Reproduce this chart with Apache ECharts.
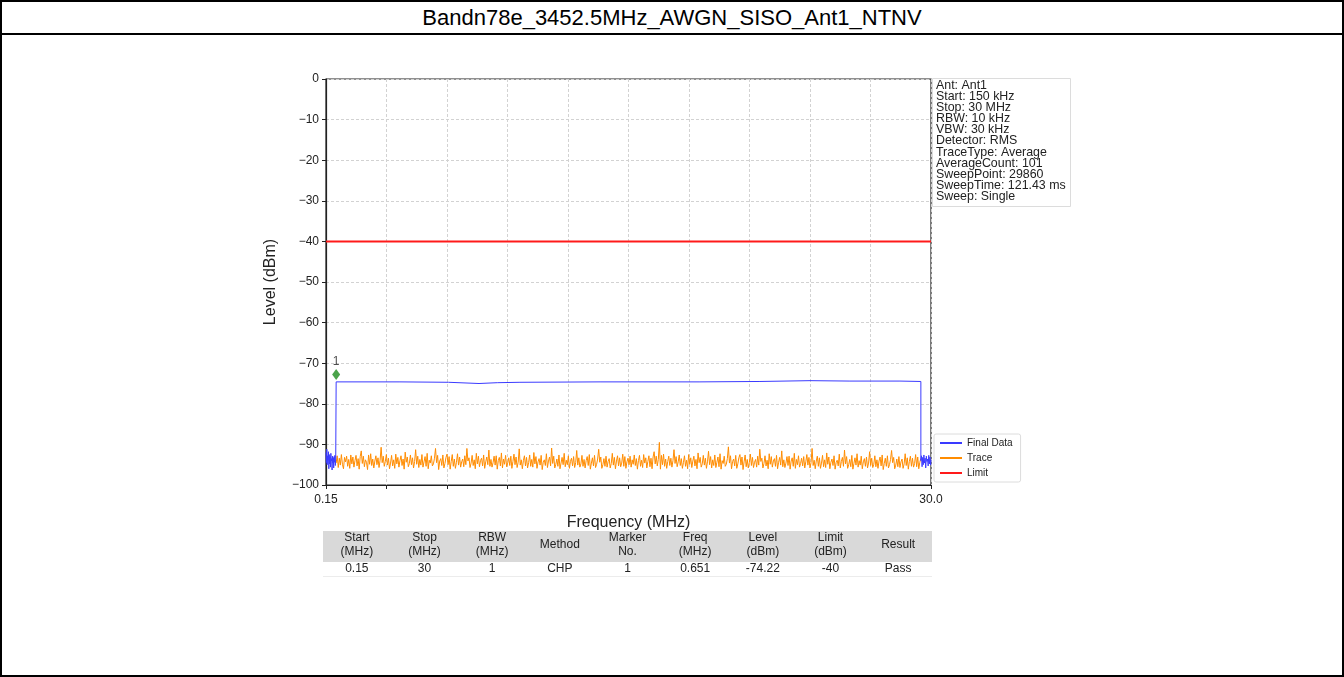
<!DOCTYPE html>
<html><head><meta charset="utf-8">
<script src="https://cdn.jsdelivr.net/npm/echarts@6/dist/echarts.min.js"></script>
<style>
html,body{margin:0;padding:0;background:#fff;width:1344px;height:677px;overflow:hidden;font-family:"Liberation Sans",Arial,sans-serif;}
#frame{position:absolute;left:0;top:0;width:1340px;height:673px;border:2px solid #000;}
#hdr{position:absolute;left:0;top:2px;width:1344px;height:32px;line-height:32px;text-align:center;font-size:22px;color:#000;}
#hline{position:absolute;left:0;top:33px;width:1344px;height:2px;background:#000;}
#chart{position:absolute;left:0;top:0;width:1344px;height:677px;}
</style>
</head><body>
<div id="frame"></div>
<div id="hdr">Bandn78e_3452.5MHz_AWGN_SISO_Ant1_NTNV</div>
<div id="hline"></div>
<div id="chart"></div>
<script>
// ---- data ----
var xTickLabels = ['0.15', '30.0'];
var limitFreq = [0.15, 30];
var limitLevel = [-40, -40];
var markerFreq = [0.651];
var markerLevel = [-72.8];
var markerLabel = ['1'];
var finalFreq = [0.15,0.17,0.19,0.21,0.23,0.25,0.27,0.29,0.31,0.33,0.35,0.37,0.39,0.41,0.43,0.45,0.47,0.49,0.51,0.53,0.55,0.57,0.59,0.61,0.63,0.65,
  0.651,3.80,6.2,7.70,8.6,9.72,13.67,18.6,21.56,24.03,26.0,28.47,29.5,
  29.5,29.53,29.56,29.59,29.62,29.65,29.68,29.71,29.74,29.77,29.80,29.83,29.86,29.89,29.92,29.95,29.98,30.0];
var finalLevel = [-92.0,-94.5,-91.2,-95.0,-92.8,-93.9,-91.8,-96.0,-92.5,-94.8,-93.0,-95.6,-92.2,-94.1,-93.5,-96.3,-92.9,-94.6,-93.3,-95.8,-93.0,-94.4,-92.7,-95.2,-93.6,-94.0,
  -74.6,-74.6,-74.7,-75.0,-74.8,-74.7,-74.6,-74.6,-74.5,-74.3,-74.4,-74.4,-74.5,
  -94.0,-92.8,-95.5,-93.2,-95.0,-92.6,-94.6,-93.4,-95.8,-92.9,-94.2,-93.6,-95.3,-92.7,-94.8,-93.1,-95.1,-93.8];
var traceStart = 0.651;
var traceStop = 29.5;
var traceLevel = [
-94.6,-92.8,-95.7,-93.4,-95.1,-92.5,-94.9,-96.0,-93.2,-94.3,-92.9,-95.4,-93.7,-95.9,-92.6,-94.8,-93.1,-95.6,-94.0,-92.7,
-95.3,-93.5,-96.1,-93.0,-91.6,-94.7,-92.9,-95.5,-93.8,-94.4,-96.2,-92.6,-94.9,-92.3,-95.2,-93.6,-95.8,-94.1,-92.8,-95.0,
-93.3,-95.7,-93.9,-90.7,-94.5,-92.9,-95.4,-94.2,-92.5,-95.1,-93.4,-96.0,-94.6,-92.7,-95.3,-93.8,-95.9,-92.4,-94.8,-93.2,
-95.6,-94.0,-92.8,-95.2,-93.6,-96.1,-91.9,-94.4,-93.1,-95.5,-94.7,-92.6,-95.0,-93.3,-95.8,-94.2,-91.3,-94.9,-92.9,-95.7,
-93.7,-95.1,-92.5,-95.6,-94.3,-93.0,-95.4,-92.2,-96.0,-93.9,-94.6,-92.8,-95.3,-94.8,-93.4,-91.0,-94.5,-92.7,-96.2,-94.1,
-93.5,-95.2,-92.6,-95.8,-94.7,-93.2,-92.4,-95.0,-93.0,-96.1,-94.2,-92.5,-95.4,-93.6,-95.9,-94.4,-92.3,-95.1,-93.1,-95.6,
-94.3,-93.6,-95.5,-92.8,-95.0,-91.0,-94.1,-93.3,-95.7,-94.6,-92.7,-95.2,-93.8,-96.0,-92.2,-94.8,-92.9,-95.5,-94.0,-93.4,
-95.3,-92.6,-95.9,-94.3,-93.1,-95.0,-91.4,-95.4,-93.7,-95.6,-94.5,-92.9,-95.1,-92.8,-96.1,-94.0,-93.2,-95.3,-92.1,-95.8,
-93.6,-94.9,-92.7,-95.5,-94.6,-93.3,-95.2,-92.9,-95.9,-94.2,-92.4,-95.0,-93.1,-95.7,-94.4,-91.1,-95.1,-93.8,-96.0,-94.0,
-92.8,-95.3,-93.2,-95.8,-94.5,-92.6,-95.4,-93.7,-95.6,-92.0,-94.8,-93.0,-95.9,-94.3,-93.5,-95.1,-92.7,-96.2,-94.4,-93.8,
-95.2,-92.3,-95.7,-94.1,-93.1,-95.3,-90.9,-94.7,-92.9,-95.8,-94.9,-93.6,-95.4,-92.6,-96.0,-94.6,-93.2,-95.0,-92.2,-95.5,
-93.9,-95.0,-92.8,-95.9,-94.2,-93.4,-95.3,-93.0,-95.7,-94.5,-91.5,-95.1,-93.3,-95.6,-94.8,-92.7,-95.4,-93.7,-95.8,-94.0,
-93.0,-95.2,-92.5,-96.1,-94.6,-93.3,-95.3,-92.7,-95.7,-94.9,-93.6,-91.2,-94.4,-93.1,-95.9,-95.0,-93.5,-95.4,-92.9,-95.6,
-94.2,-93.5,-95.8,-94.7,-92.2,-95.1,-93.2,-96.0,-94.1,-92.8,-95.3,-93.3,-95.5,-94.6,-92.4,-95.4,-93.0,-95.9,-94.3,-93.4,
-95.0,-92.9,-95.6,-93.8,-94.9,-92.6,-95.2,-93.5,-96.1,-94.0,-92.7,-95.4,-93.9,-95.7,-92.5,-94.6,-93.3,-95.8,-94.2,-92.8,
-95.5,-93.4,-96.0,-93.1,-91.8,-94.8,-92.9,-95.3,-93.7,-89.5,-96.1,-92.7,-95.0,-92.4,-95.4,-93.6,-95.9,-94.2,-92.9,-95.2,
-93.4,-95.6,-94.0,-91.3,-94.7,-93.0,-95.5,-94.3,-92.6,-95.2,-93.5,-95.9,-94.5,-92.8,-95.4,-93.9,-96.0,-92.5,-94.9,-93.3,
-95.7,-94.1,-92.9,-95.3,-93.7,-96.0,-92.1,-94.5,-93.2,-95.6,-94.8,-92.7,-95.1,-93.4,-95.9,-94.3,-91.7,-95.0,-93.0,-95.8,
-93.8,-95.2,-92.6,-95.7,-94.4,-93.1,-95.5,-92.3,-96.1,-94.0,-94.7,-92.9,-95.4,-94.9,-93.5,-90.6,-94.6,-92.8,-96.0,-94.2,
-93.6,-95.3,-92.7,-95.9,-94.8,-93.3,-92.5,-95.1,-93.1,-96.2,-94.3,-92.6,-95.5,-93.7,-95.8,-94.5,-92.4,-95.2,-93.2,-95.7,
-94.4,-93.7,-95.6,-92.9,-95.1,-91.2,-94.2,-93.4,-95.8,-94.7,-92.8,-95.3,-93.9,-96.0,-92.3,-94.9,-93.0,-95.6,-94.1,-93.5,
-95.4,-92.7,-96.0,-94.4,-93.2,-95.1,-91.6,-95.5,-93.8,-95.7,-94.6,-93.0,-95.2,-92.9,-96.1,-94.1,-93.3,-95.4,-92.2,-95.9,
-93.7,-95.0,-92.8,-95.6,-94.7,-93.4,-95.3,-93.0,-95.8,-94.3,-92.5,-95.1,-93.2,-95.8,-94.5,-91.0,-95.2,-93.9,-96.0,-94.1,
-92.9,-95.4,-93.3,-95.9,-94.6,-92.7,-95.5,-93.8,-95.7,-92.1,-94.9,-93.1,-96.0,-94.4,-93.6,-95.2,-92.8,-96.1,-94.5,-93.9,
-95.3,-92.4,-95.8,-94.2,-93.2,-95.4,-91.4,-94.8,-93.0,-95.9,-95.0,-93.7,-95.5,-92.7,-96.1,-94.7,-93.3,-95.1,-92.3,-95.6,
-94.0,-95.1,-92.9,-96.0,-94.3,-93.5,-95.4,-93.1,-95.8,-94.6,-91.8,-95.2,-93.4,-95.7,-94.9,-92.8,-95.5,-93.8,-95.9,-94.1,
-93.1,-95.3,-92.6,-96.2,-94.7,-93.4,-95.4,-92.8,-95.8,-95.0,-93.7,-91.5,-94.5,-93.2,-96.0,-95.1,-93.6,-95.5,-93.0,-95.7,
-94.3,-93.6,-95.9,-94.8,-92.3,-95.2,-93.3,-96.1,-94.2,-92.9,-95.4,-93.4,-95.6,-94.7,-92.5,-95.5,-93.1,-96.0,-94.4,-93.5
];
var infoLines = ['Ant: Ant1','Start: 150 kHz','Stop: 30 MHz','RBW: 10 kHz','VBW: 30 kHz','Detector: RMS','TraceType: Average','AverageCount: 101','SweepPoint: 29860','SweepTime: 121.43 ms','Sweep: Single'];
var legendNames = ['Final Data', 'Trace', 'Limit'];
var tableHeaders = ['Start\n(MHz)','Stop\n(MHz)','RBW\n(MHz)','Method','Marker\nNo.','Freq\n(MHz)','Level\n(dBm)','Limit\n(dBm)','Result'];
var tableValues = ['0.15','30','1','CHP','1','0.651','-74.22','-40','Pass'];

// ---- build ----
var FONT = '"Liberation Sans", Arial, sans-serif';
function zip(a, b) { return a.map(function (v, i) { return [v, b[i]]; }); }
var traceData = traceLevel.map(function (v, i) {
  return [traceStart + (traceStop - traceStart) * i / (traceLevel.length - 1), v];
});
function fmtY(v) { return v < 0 ? '\u2212' + Math.abs(v) : String(v); }

var G = { left: 326, top: 79, width: 605, height: 406 };
var graphics = [];
// info box
graphics.push({ type: 'rect', shape: { x: 932.5, y: 78.5, width: 138, height: 128 }, style: { fill: '#fff', stroke: '#dcdcdc', lineWidth: 1 }, z: 10 });
graphics.push({ type: 'text', x: 936, y: 80, style: { text: infoLines.join('\n'), font: '12.4px ' + FONT, lineHeight: 11.1, fill: '#222' }, z: 11 });
// table
var tX = 323, tW = 609, colW = tW / tableHeaders.length;
graphics.push({ type: 'rect', shape: { x: tX, y: 531, width: tW, height: 31 }, style: { fill: '#d9d9d9' }, z: 5 });
graphics.push({ type: 'line', shape: { x1: tX, y1: 576.5, x2: tX + tW, y2: 576.5 }, style: { stroke: '#ececec', lineWidth: 1 }, z: 5 });
tableHeaders.forEach(function (h, i) {
  var cx = tX + colW * (i + 0.5);
  graphics.push({ type: 'text', x: cx, y: 545, style: { text: h, font: '12px ' + FONT, lineHeight: 14, fill: '#222', align: 'center', verticalAlign: 'middle' }, z: 6 });
  graphics.push({ type: 'text', x: cx, y: 568.5, style: { text: tableValues[i], font: '12px ' + FONT, fill: '#222', align: 'center', verticalAlign: 'middle' }, z: 6 });
});

var chart = echarts.init(document.getElementById('chart'), null, { renderer: 'canvas' });
chart.setOption({
  backgroundColor: 'transparent',
  animation: false,
  textStyle: { fontFamily: FONT },
  grid: { left: G.left, top: G.top, width: G.width, height: G.height, show: true, borderColor: '#222', borderWidth: 1.2, backgroundColor: 'transparent' },
  legend: {
    data: legendNames, orient: 'vertical', left: 934, top: 434,
    icon: 'rect', itemWidth: 22, itemHeight: 2, itemGap: 5,
    backgroundColor: '#fff', borderColor: '#dcdcdc', borderWidth: 1, borderRadius: 2,
    padding: [4, 8, 4, 6],
    textStyle: { fontSize: 10, color: '#222', fontFamily: FONT }
  },
  xAxis: [
    { type: 'value', min: 0.15, max: 30, show: false, position: 'top' },
    {
      type: 'value', min: 0, max: 10, interval: 1, position: 'bottom',
      name: 'Frequency (MHz)', nameLocation: 'middle', nameGap: 30,
      nameTextStyle: { fontSize: 16, color: '#222', fontFamily: FONT },
      axisLine: { show: true, onZero: false, lineStyle: { color: '#222', width: 1.2 } },
      axisTick: { show: true, length: 4, lineStyle: { color: '#222' } },
      splitLine: { show: true, lineStyle: { color: '#d2d2d2', type: [3, 2], width: 1 } },
      axisLabel: { fontSize: 12, color: '#222', margin: 9, showMinLabel: true, showMaxLabel: true,
        formatter: function (v) { return v === 0 ? xTickLabels[0] : (v === 10 ? xTickLabels[1] : ''); } }
    }
  ],
  yAxis: {
    type: 'value', min: -100, max: 0, interval: 10,
    name: 'Level (dBm)', nameLocation: 'middle', nameGap: 47,
    nameTextStyle: { fontSize: 16, color: '#222', fontFamily: FONT },
    axisLine: { show: true, onZero: false, lineStyle: { color: '#222', width: 1.2 } },
    axisTick: { show: true, length: 4, lineStyle: { color: '#222' } },
    splitLine: { show: true, lineStyle: { color: '#d2d2d2', type: [3, 2], width: 1 } },
    axisLabel: { fontSize: 12, color: '#222', margin: 7, formatter: fmtY }
  },
  series: [
    { name: 'Trace', type: 'line', xAxisIndex: 0, data: traceData, showSymbol: false, symbol: 'none',
      lineStyle: { color: '#ff8c00', width: 1 }, itemStyle: { color: '#ff8c00' }, z: 2 },
    { name: 'Final Data', type: 'line', xAxisIndex: 0, data: zip(finalFreq, finalLevel), showSymbol: false, symbol: 'none',
      lineStyle: { color: '#3a3aff', width: 1 }, itemStyle: { color: '#3a3aff' }, z: 3 },
    { name: 'Limit', type: 'line', xAxisIndex: 0, data: zip(limitFreq, limitLevel), showSymbol: false, symbol: 'none',
      lineStyle: { color: '#ff1a1a', width: 2 }, itemStyle: { color: '#ff1a1a' }, z: 3 },
    { name: 'Marker', type: 'scatter', xAxisIndex: 0, data: zip(markerFreq, markerLevel), symbol: 'diamond', symbolSize: [8, 11],
      itemStyle: { color: '#1e8c1e' }, z: 4,
      label: { show: true, position: 'top', distance: 1, fontSize: 12, color: '#222', formatter: function (p) { return markerLabel[p.dataIndex]; } } }
  ],
  graphic: graphics
});
</script>
</body></html>
